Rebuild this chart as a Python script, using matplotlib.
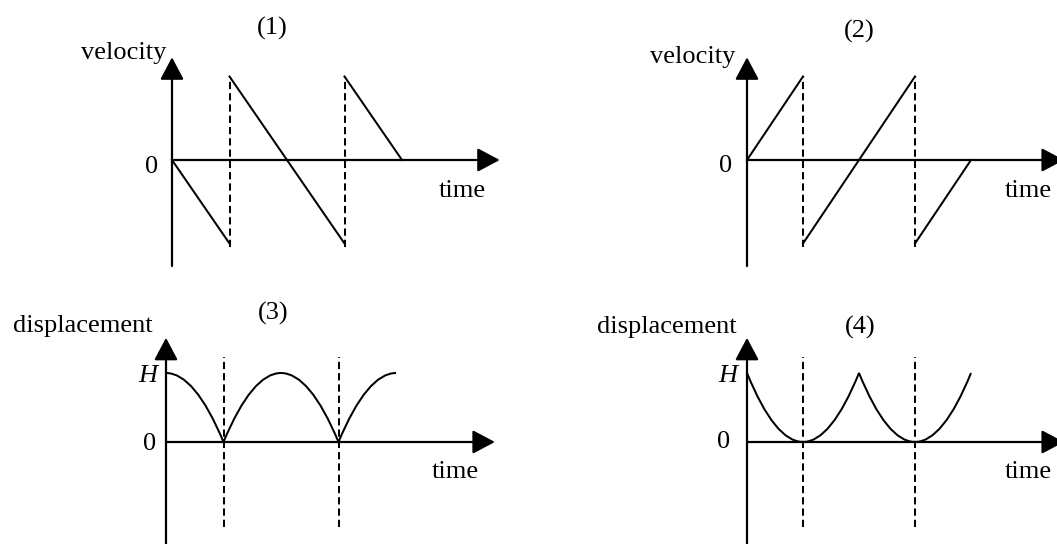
import numpy as np
import matplotlib.pyplot as plt
from matplotlib.path import Path
from matplotlib.patches import PathPatch

# bouncing ball sketch: 2 velocity graphs + 2 displacement graphs
# time in units of the first fall time, values normalised (v0 = 1, H = 1)

bounce_t = [1, 3]

# velocity (1): downward negative
vel1_t = [[0, 1], [1, 3], [3, 4]]
vel1_v = [[0, -1], [1, -1], [1, 0]]

# velocity (2): downward positive
vel2_t = [[0, 1], [1, 3], [3, 4]]
vel2_v = [[0, 1], [-1, 1], [-1, 0]]

# displacement arcs, quadratic bezier knots (end, control, end, control, ...)
disp_t = [0, 0.5, 1, 1.5, 2, 2.5, 3, 3.5, 4]
disp3_y = [1, 1, 0, 1, 1, 1, 0, 1, 1]
disp4_y = [1, 0, 0, 0, 1, 0, 0, 0, 1]

W, Hpx = 1057, 544
plt.rcParams['font.family'] = ['Liberation Serif', 'DejaVu Serif']
fs = 19
lw_axis = 1.6
lw_curve = 1.45

fig = plt.figure(figsize=(W / 100, Hpx / 100), dpi=100)


def panel(i, ox, oy, sx, sy):
    # one transparent full-figure axes per panel, origin at pixel (ox, oy)
    ax = fig.add_axes([0, 0, 1, 1], label='p%d' % i)
    ax.set_xlim(-ox / sx, (W - ox) / sx)
    ax.set_ylim(-(Hpx - oy) / sy, oy / sy)
    ax.axis('off')
    ax.patch.set_alpha(0)
    return ax


def arrow_axes(ax, xtip, ybot, ytip):
    style = '-|>,head_length=0.98,head_width=0.52'
    ax.annotate('', xy=(xtip, 0), xytext=(0, 0), annotation_clip=False,
                arrowprops=dict(arrowstyle=style, lw=lw_axis, color='k',
                                shrinkA=0, shrinkB=0, mutation_scale=14))
    ax.annotate('', xy=(0, ytip), xytext=(0, ybot), annotation_clip=False,
                arrowprops=dict(arrowstyle=style, lw=lw_axis, color='k',
                                shrinkA=0, shrinkB=0, mutation_scale=14))


def dashes(ax, lo, hi):
    for tb in bounce_t:
        ax.plot([tb, tb], [lo, hi], color='k', lw=1.45, dashes=(3.6, 2.0))


def bezier(ax, t, y):
    verts = list(zip(t, y))
    codes = [Path.MOVETO] + [Path.CURVE3] * (len(verts) - 1)
    ax.add_patch(PathPatch(Path(verts, codes), fc='none', ec='k', lw=lw_curve))


# ---- (1) ----
ax1 = panel(1, 172, 160, 57.5, 83.5)
arrow_axes(ax1, 5.70, -1.27, 1.23)
dashes(ax1, -1.04, 1.0)
for t, v in zip(vel1_t, vel1_v):
    ax1.plot(t, v, color='k', lw=lw_curve)
ax1.text(-0.10, 1.21, 'velocity', ha='right', va='baseline', fontsize=fs)
ax1.text(1.74, 1.50, '(1)', ha='center', va='baseline', fontsize=fs)
ax1.text(-0.24, -0.156, '0', ha='right', va='baseline', fontsize=fs)
ax1.text(5.04, -0.443, 'time', ha='center', va='baseline', fontsize=fs)

# ---- (2) ----
ax2 = panel(2, 747, 160, 56, 83.5)
arrow_axes(ax2, 5.66, -1.27, 1.23)
dashes(ax2, -1.04, 1.0)
for t, v in zip(vel2_t, vel2_v):
    ax2.plot(t, v, color='k', lw=lw_curve)
ax2.text(-0.20, 1.16, 'velocity', ha='right', va='baseline', fontsize=fs)
ax2.text(2.0, 1.47, '(2)', ha='center', va='baseline', fontsize=fs)
ax2.text(-0.27, -0.14, '0', ha='right', va='baseline', fontsize=fs)
ax2.text(5.02, -0.443, 'time', ha='center', va='baseline', fontsize=fs)

# ---- (3) ----
ax3 = panel(3, 166, 442, 57.5, 69)
arrow_axes(ax3, 5.72, -1.5, 1.51)
dashes(ax3, -1.23, 1.23)
bezier(ax3, disp_t, disp3_y)
ax3.text(-0.24, 1.59, 'displacement', ha='right', va='baseline', fontsize=fs)
ax3.text(1.86, 1.77, '(3)', ha='center', va='baseline', fontsize=fs)
ax3.text(-0.16, 0.87, 'H', ha='right', va='baseline', fontsize=fs, style='italic')
ax3.text(-0.17, -0.12, '0', ha='right', va='baseline', fontsize=fs)
ax3.text(5.03, -0.52, 'time', ha='center', va='baseline', fontsize=fs)

# ---- (4) ----
ax4 = panel(4, 747, 442, 56, 69)
arrow_axes(ax4, 5.66, -1.5, 1.51)
dashes(ax4, -1.23, 1.23)
bezier(ax4, disp_t, disp4_y)
ax4.text(-0.18, 1.58, 'displacement', ha='right', va='baseline', fontsize=fs)
ax4.text(2.02, 1.57, '(4)', ha='center', va='baseline', fontsize=fs)
ax4.text(-0.18, 0.87, 'H', ha='right', va='baseline', fontsize=fs, style='italic')
ax4.text(-0.30, -0.09, '0', ha='right', va='baseline', fontsize=fs)
ax4.text(5.02, -0.52, 'time', ha='center', va='baseline', fontsize=fs)

fig.savefig('out.png', dpi=100, facecolor='white')
